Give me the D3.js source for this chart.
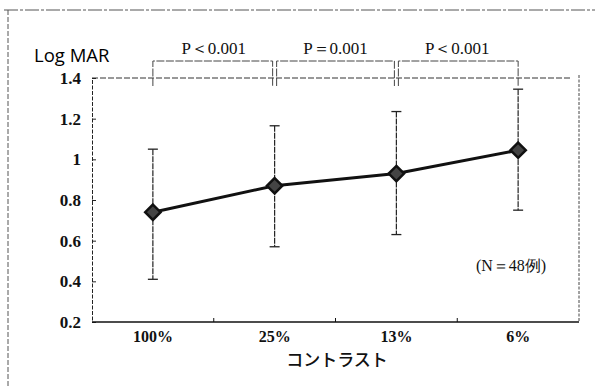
<!DOCTYPE html>
<html>
<head>
<meta charset="utf-8">
<style>
  body { margin: 0; background: #fff; }
  svg { display: block; }
  .serif { font-family: "Liberation Serif", "DejaVu Serif", serif; }
</style>
</head>
<body>
<script src="https://cdn.jsdelivr.net/npm/d3@7"></script>
<script>
// data
var categories = ["100%", "25%", "13%", "6%"];
var means = [0.74, 0.87, 0.93, 1.045];
var upper = [1.05, 1.165, 1.235, 1.345];
var lower = [0.41, 0.57, 0.63, 0.75];
var yTicks = [0.2, 0.4, 0.6, 0.8, 1, 1.2, 1.4];
var pLabels = ["P＜0.001", "P＝0.001", "P＜0.001"];

var W = 595, H = 388;
var plot = {left: 92, right: 579, top: 78, bottom: 322};

var svg = d3.select("body").append("svg")
    .attr("width", W)
    .attr("height", H);

// scanned page frame
svg.append("line")
    .attr("x1", 4).attr("x2", 595).attr("y1", 10).attr("y2", 10)
    .attr("stroke", "#555").attr("stroke-width", 1)
    .attr("stroke-dasharray", "14,2,3,2");
svg.append("line")
    .attr("x1", 8).attr("x2", 8).attr("y1", 10).attr("y2", 388)
    .attr("stroke", "#555").attr("stroke-width", 1)
    .attr("stroke-dasharray", "5,2");

var x = d3.scalePoint()
    .domain(categories)
    .range([plot.left, plot.right])
    .padding(0.5);

var y = d3.scaleLinear()
    .domain([0.2, 1.4])
    .range([plot.bottom, plot.top]);

var step = x.step();

// plot box: top + right dotted, left dashed, bottom solid
svg.append("line")
    .attr("x1", plot.left).attr("x2", plot.right - 8)
    .attr("y1", y(1.4)).attr("y2", y(1.4))
    .attr("stroke", "#333").attr("stroke-dasharray", "6,2");
svg.append("line")
    .attr("x1", plot.right).attr("x2", plot.right)
    .attr("y1", plot.top - 3).attr("y2", plot.bottom)
    .attr("stroke", "#444").attr("stroke-dasharray", "3,1.5");

// left axis
var yAxis = d3.axisLeft(y)
    .tickValues(yTicks)
    .tickSize(-4)
    .tickPadding(11)
    .tickFormat(function(d) { return d3.format("")(d); });
var gy = svg.append("g")
    .attr("transform", "translate(" + plot.left + ",0)")
    .call(yAxis);
gy.select(".domain")
    .attr("stroke", "#222").attr("stroke-dasharray", "4,1.5");
gy.selectAll(".tick line").attr("stroke", "#222");
gy.selectAll(".tick text")
    .attr("class", "serif")
    .attr("font-size", 17)
    .attr("font-weight", "bold")
    .attr("fill", "#111");

// bottom axis (ticks at category boundaries, pointing up)
svg.append("line")
    .attr("x1", plot.left).attr("x2", plot.right)
    .attr("y1", plot.bottom).attr("y2", plot.bottom)
    .attr("stroke", "#111").attr("stroke-width", 1.5);
svg.selectAll(".bnd")
    .data(categories.slice(1))
    .enter().append("line")
    .attr("x1", function(d) { return x(d) - step / 2; })
    .attr("x2", function(d) { return x(d) - step / 2; })
    .attr("y1", plot.bottom).attr("y2", plot.bottom - 4)
    .attr("stroke", "#111");

svg.selectAll(".xlab")
    .data(categories)
    .enter().append("text")
    .attr("class", "serif")
    .attr("x", function(d) { return x(d); })
    .attr("y", plot.bottom + 20)
    .attr("text-anchor", "middle")
    .attr("font-size", 16)
    .attr("font-weight", "bold")
    .attr("fill", "#111")
    .text(function(d) { return d; });

// axis titles
svg.append("text")
    .attr("x", 34).attr("y", 62)
    .attr("font-family", "'Open Sans', 'Noto Sans', sans-serif")
    .attr("font-size", 18.5)
    .attr("fill", "#000")
    .text("Log MAR");

svg.append("text")
    .attr("x", 337).attr("y", 366)
    .attr("text-anchor", "middle")
    .attr("font-family", "'Noto Sans CJK JP', sans-serif")
    .attr("font-size", 17)
    .attr("font-weight", 500)
    .attr("fill", "#111")
    .text("コントラスト");

svg.append("text")
    .attr("class", "serif")
    .attr("x", 511).attr("y", 271)
    .attr("text-anchor", "middle")
    .attr("font-size", 16)
    .attr("fill", "#111")
    .text("(N＝48例)");

// significance brackets
var brY = 61, brBottom = 86;
pLabels.forEach(function(label, i) {
    var x0 = x(categories[i]) + (i === 0 ? 0 : 2);
    var x1 = x(categories[i + 1]) - (i === pLabels.length - 1 ? 0 : 2);
    svg.append("path")
        .attr("d", "M" + x0 + "," + brBottom + "V" + brY + "H" + x1 + "V" + brBottom)
        .attr("fill", "none")
        .attr("stroke", "#444")
        .attr("stroke-width", 1)
        .attr("stroke-dasharray", "8,1.5");
    svg.append("text")
        .attr("class", "serif")
        .attr("x", (x(categories[i]) + x(categories[i + 1])) / 2)
        .attr("y", 54)
        .attr("text-anchor", "middle")
        .attr("font-size", 17)
        .attr("fill", "#111")
        .text(label);
});

// error bars
var capW = 5;
var eb = svg.selectAll(".eb")
    .data(categories)
    .enter().append("g");
eb.append("line")
    .attr("x1", function(d) { return x(d); })
    .attr("x2", function(d) { return x(d); })
    .attr("y1", function(d, i) { return y(upper[i]); })
    .attr("y2", function(d, i) { return y(lower[i]); })
    .attr("stroke", "#222").attr("stroke-width", 1.2)
    .attr("stroke-dasharray", "6,1");
eb.append("line")
    .attr("x1", function(d) { return x(d) - capW; })
    .attr("x2", function(d) { return x(d) + capW; })
    .attr("y1", function(d, i) { return y(upper[i]); })
    .attr("y2", function(d, i) { return y(upper[i]); })
    .attr("stroke", "#222").attr("stroke-width", 1.3);
eb.append("line")
    .attr("x1", function(d) { return x(d) - capW; })
    .attr("x2", function(d) { return x(d) + capW; })
    .attr("y1", function(d, i) { return y(lower[i]); })
    .attr("y2", function(d, i) { return y(lower[i]); })
    .attr("stroke", "#222").attr("stroke-width", 1.3);

// mean line
var line = d3.line()
    .x(function(d, i) { return x(categories[i]); })
    .y(function(d) { return y(d); });
svg.append("path")
    .datum(means)
    .attr("d", line)
    .attr("fill", "none")
    .attr("stroke", "#111")
    .attr("stroke-width", 3);

// diamond markers
var diamond = d3.symbol().type(d3.symbolDiamond2).size(150);
svg.selectAll(".mk")
    .data(means)
    .enter().append("path")
    .attr("transform", function(d, i) {
        return "translate(" + x(categories[i]) + "," + y(d) + ")";
    })
    .attr("d", diamond)
    .attr("fill", "#444")
    .attr("stroke", "#111")
    .attr("stroke-width", 2.5);
</script>
</body>
</html>
